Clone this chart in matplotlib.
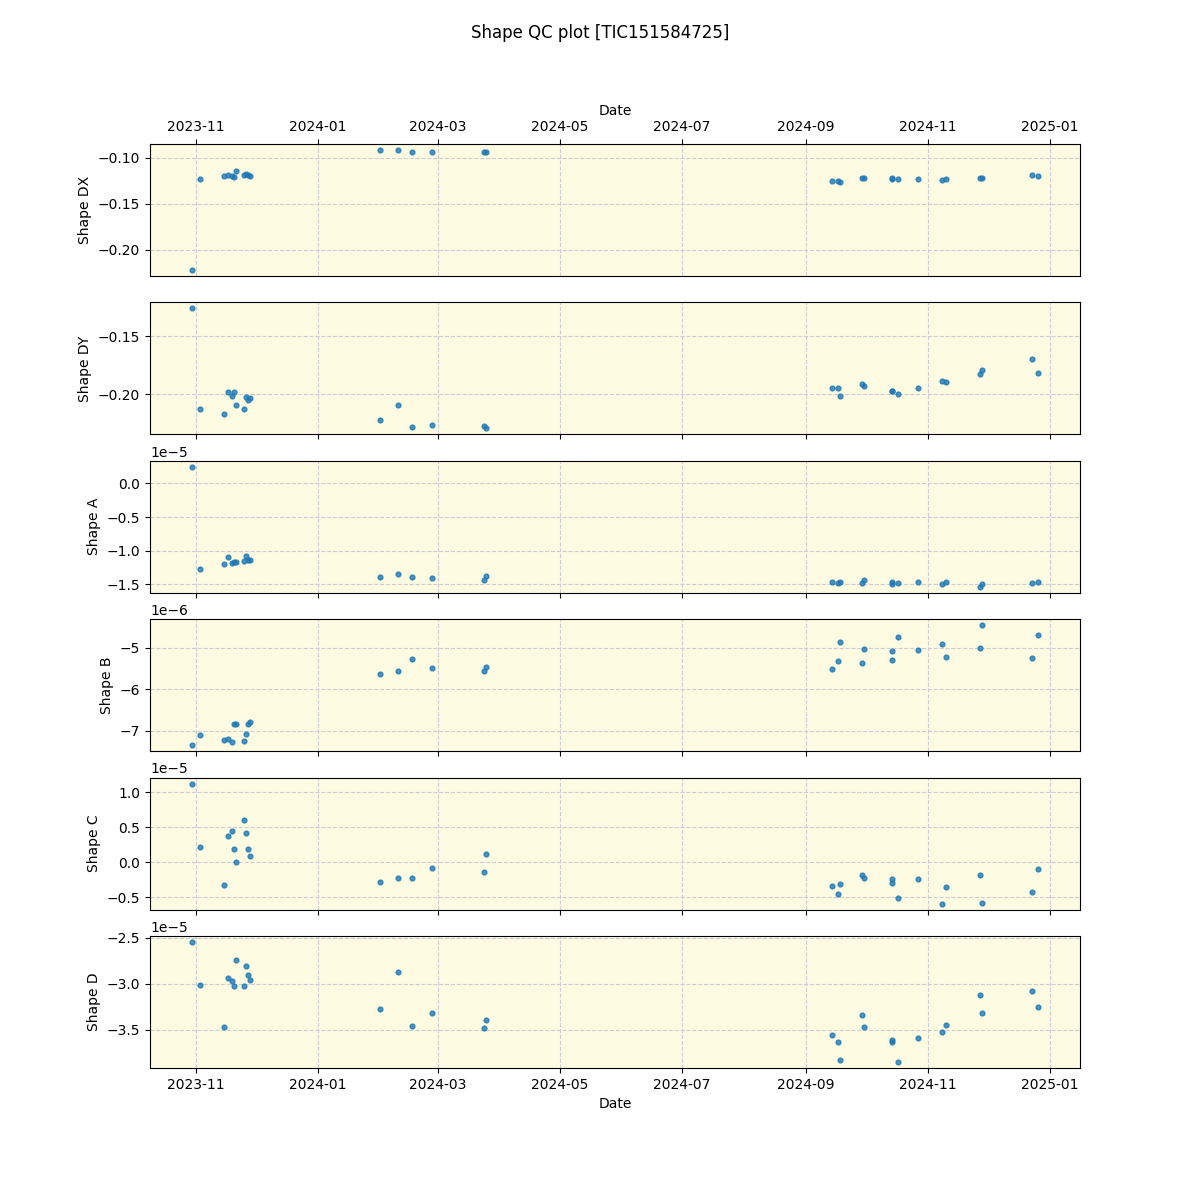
#!/usr/bin/env python3
from datetime import datetime

import matplotlib
matplotlib.use("Agg")
import matplotlib.pyplot as plt
import numpy as np

dates = [
    "2023-10-30", "2023-11-03", "2023-11-15", "2023-11-17", "2023-11-19",
    "2023-11-20", "2023-11-21", "2023-11-25", "2023-11-26", "2023-11-27",
    "2023-11-28", "2024-02-01", "2024-02-10", "2024-02-17", "2024-02-27",
    "2024-03-24", "2024-03-25", "2024-09-14", "2024-09-17", "2024-09-18",
    "2024-09-29", "2024-09-30", "2024-10-14", "2024-10-14", "2024-10-17",
    "2024-10-27", "2024-11-08", "2024-11-10", "2024-11-27", "2024-11-28",
    "2024-12-23", "2024-12-26",
]

shape_dx = [
    -0.2217, -0.1232, -0.1196, -0.1185, -0.1196, -0.1210, -0.1145, -0.1185,
    -0.1177, -0.1188, -0.1199, -0.0916, -0.0916, -0.0938, -0.0938, -0.0935,
    -0.0935, -0.1253, -0.1253, -0.1264, -0.1221, -0.1221, -0.1221, -0.1232,
    -0.1232, -0.1232, -0.1242, -0.1232, -0.1221, -0.1221, -0.1188, -0.1199,
]

shape_dy = [
    -0.1261, -0.2123, -0.2166, -0.1977, -0.2011, -0.1977, -0.2089, -0.2123,
    -0.2020, -0.2046, -0.2028, -0.2218, -0.2089, -0.2278, -0.2261, -0.2276,
    -0.2293, -0.1942, -0.1942, -0.2011, -0.1908, -0.1925, -0.1968, -0.1968,
    -0.1994, -0.1942, -0.1882, -0.1891, -0.1822, -0.1787, -0.1692, -0.1813,
]

shape_a = [
    0.248, -1.267, -1.193, -1.089, -1.178, -1.163, -1.163, -1.149,
    -1.074, -1.134, -1.134, -1.386, -1.342, -1.386, -1.401, -1.440,
    -1.380, -1.461, -1.476, -1.461, -1.476, -1.431, -1.461, -1.490,
    -1.476, -1.461, -1.490, -1.461, -1.535, -1.490, -1.476, -1.461,
]  # x 1e-5

shape_b = [
    -7.345, -7.104, -7.224, -7.200, -7.272, -6.839, -6.839, -7.248,
    -7.080, -6.839, -6.790, -5.634, -5.561, -5.272, -5.489, -5.554,
    -5.458, -5.514, -5.321, -4.863, -5.369, -5.031, -5.297, -5.080,
    -4.742, -5.055, -4.911, -5.224, -5.007, -4.453, -5.248, -4.694,
]  # x 1e-6

shape_c = [
    1.124, 0.224, -0.319, 0.381, 0.453, 0.196, 0.010, 0.610,
    0.424, 0.196, 0.096, -0.276, -0.219, -0.219, -0.076, -0.143,
    0.114, -0.333, -0.447, -0.304, -0.176, -0.219, -0.233, -0.290,
    -0.504, -0.233, -0.590, -0.347, -0.176, -0.576, -0.419, -0.090,
]  # x 1e-5

shape_d = [
    -2.545, -3.014, -3.472, -2.938, -2.971, -3.025, -2.742, -3.025,
    -2.807, -2.905, -2.960, -3.276, -2.872, -3.461, -3.320, -3.480,
    -3.400, -3.559, -3.636, -3.832, -3.341, -3.472, -3.614, -3.636,
    -3.854, -3.592, -3.527, -3.450, -3.123, -3.320, -3.080, -3.254,
]  # x 1e-5

x = [datetime.strptime(d, "%Y-%m-%d") for d in dates]

panels = [
    ("Shape DX", np.array(shape_dx)),
    ("Shape DY", np.array(shape_dy)),
    ("Shape A", np.array(shape_a) * 1e-5),
    ("Shape B", np.array(shape_b) * 1e-6),
    ("Shape C", np.array(shape_c) * 1e-5),
    ("Shape D", np.array(shape_d) * 1e-5),
]

fig, axes = plt.subplots(len(panels), 1, sharex=True, figsize=(12, 12))

for ax, (label, values) in zip(axes, panels):
    ax.set_facecolor("#fdfbe1")
    ax.scatter(x, values, s=12, color="tab:blue", alpha=0.8, zorder=3)
    ax.grid(True, linestyle="--", color="#c8c8d4", alpha=0.9)
    ax.set_ylabel(label)

axes[0].xaxis.tick_top()
axes[0].xaxis.set_label_position("top")
axes[0].set_xlabel("Date")
axes[0].tick_params(axis="x", labeltop=True)
axes[-1].set_xlabel("Date")

fig.suptitle("Shape QC plot [TIC151584725]", y=0.98)

plt.savefig("out.png", dpi=100)
